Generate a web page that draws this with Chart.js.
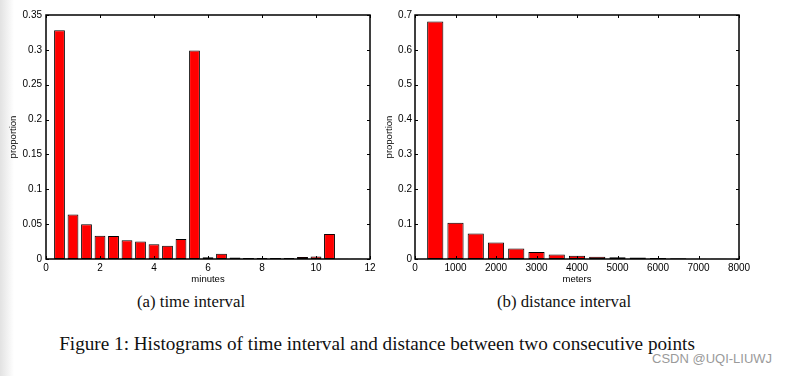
<!DOCTYPE html>
<html>
<head>
<meta charset="utf-8">
<script src="https://cdn.jsdelivr.net/npm/chart.js@4.4.1/dist/chart.umd.min.js"></script>
<style>
html, body { margin: 0; padding: 0; background: #fff; }
body { width: 789px; height: 376px; position: relative; overflow: hidden; }
.shade { position: absolute; left: 0; top: 0; width: 14px; height: 376px;
         background: linear-gradient(to right, #e2e2e2, #ffffff); }
.box { position: absolute; top: 0; height: 292px; }
#leftBox { left: 0; width: 380px; }
#rightBox { left: 380px; width: 409px; }
.cap { position: absolute; font-family: "Liberation Serif", "DejaVu Serif", serif;
       color: #111; white-space: nowrap; transform: translate(-50%, -50%); }
#capA { left: 191px; top: 302px; font-size: 16.8px; }
#capB { left: 564px; top: 302px; font-size: 16.8px; }
#capFig { left: 377px; top: 344px; font-size: 19.2px; }
#mark { position: absolute; left: 652px; top: 351px; font-family: "Liberation Sans", Arial, sans-serif;
        font-size: 13px; color: #9a9a9a; white-space: nowrap; }
</style>
</head>
<body>
<div class="shade"></div>
<div class="box" id="leftBox"><canvas id="timeChart"></canvas></div>
<div class="box" id="rightBox"><canvas id="distChart"></canvas></div>
<div class="cap" id="capA">(a) time interval</div>
<div class="cap" id="capB">(b) distance interval</div>
<div class="cap" id="capFig">Figure 1: Histograms of time interval and distance between two consecutive points</div>
<div id="mark">CSDN @UQI-LIUWJ</div>

<script>
/*************************************************
 * Data
 *************************************************/
const timeCenters = [0.5, 1, 1.5, 2, 2.5, 3, 3.5, 4, 4.5, 5, 5.5, 6,
                     6.5, 7, 7.5, 8, 8.5, 9, 9.5, 10, 10.5, 11, 11.5];
const timeValues = [0.328, 0.064, 0.050, 0.0335, 0.033, 0.027, 0.025, 0.021, 0.019, 0.0287, 0.299, 0.0024,
                    0.0077, 0.002, 0.0015, 0.0015, 0.0015, 0.0015, 0.003, 0.0035, 0.036, 0.0005, 0.0005];
const timeXTicks = [0, 2, 4, 6, 8, 10, 12];
const timeYTicks = [0, 0.05, 0.1, 0.15, 0.2, 0.25, 0.3, 0.35];

const distCenters = [500, 1000, 1500, 2000, 2500, 3000, 3500, 4000,
                     4500, 5000, 5500, 6000, 6500, 7000, 7500];
const distValues = [0.681, 0.104, 0.073, 0.047, 0.030, 0.020, 0.013, 0.0096,
                    0.0067, 0.005, 0.004, 0.003, 0.002, 0.001, 0.0005];
const distXTicks = [0, 1000, 2000, 3000, 4000, 5000, 6000, 7000, 8000];
const distYTicks = [0, 0.1, 0.2, 0.3, 0.4, 0.5, 0.6, 0.7];

/*************************************************
 * Box + inward ticks (matlab look)
 *************************************************/
const matlabFrame = {
    id: "matlabFrame",
    afterDatasetsDraw(chart) {
        const { ctx, chartArea: a, scales: { x, y } } = chart;
        const len = 3;
        ctx.save();
        ctx.strokeStyle = "#000";
        ctx.lineWidth = 1;
        ctx.beginPath();
        x.ticks.forEach(t => {
            const px = Math.round(x.getPixelForValue(t.value)) + 0.5;
            ctx.moveTo(px, a.bottom); ctx.lineTo(px, a.bottom - len);
            ctx.moveTo(px, a.top); ctx.lineTo(px, a.top + len);
        });
        y.ticks.forEach(t => {
            const py = Math.round(y.getPixelForValue(t.value)) + 0.5;
            ctx.moveTo(a.left, py); ctx.lineTo(a.left + len, py);
            ctx.moveTo(a.right, py); ctx.lineTo(a.right - len, py);
        });
        ctx.stroke();
        ctx.lineWidth = 1.5;
        ctx.strokeRect(a.left, a.top, a.right - a.left, a.bottom - a.top);
        ctx.restore();
    }
};

/*************************************************
 * Histogram builder
 *************************************************/
function makeHist(id, centers, values, xTicks, yTicks, xTitle, opt) {
    const tickFont = { family: "'Liberation Sans', Arial, sans-serif", size: 10 };
    const titleFont = { family: "'Liberation Sans', Arial, sans-serif", size: 9.5 };
    return new Chart(document.getElementById(id), {
        type: "bar",
        data: {
            datasets: [{
                data: centers.map((c, i) => ({ x: c, y: values[i] })),
                backgroundColor: "#ff0000",
                borderColor: "#000",
                borderWidth: 1,
                borderSkipped: false,
                barPercentage: 0.8,
                categoryPercentage: 1
            }]
        },
        options: {
            responsive: true,
            maintainAspectRatio: false,
            animation: false,
            layout: { padding: { top: 15, right: opt.right, left: 0, bottom: 0 } },
            plugins: { legend: { display: false }, tooltip: { enabled: false } },
            scales: {
                x: {
                    type: "linear",
                    min: xTicks[0],
                    max: xTicks[xTicks.length - 1],
                    offset: false,
                    grid: { display: false, drawTicks: false },
                    border: { display: false },
                    afterBuildTicks: s => { s.ticks = xTicks.map(v => ({ value: v })); },
                    afterFit: s => { s.height = 33; },
                    ticks: { color: "#000", font: tickFont, padding: 3, maxRotation: 0,
                             autoSkip: false, callback: v => String(v) },
                    title: { display: true, text: xTitle, color: "#000", font: titleFont,
                             padding: { top: 0, bottom: 7 } }
                },
                y: {
                    min: yTicks[0],
                    max: yTicks[yTicks.length - 1],
                    grid: { display: false, drawTicks: false },
                    border: { display: false },
                    afterBuildTicks: s => { s.ticks = yTicks.map(v => ({ value: v })); },
                    afterFit: s => { s.width = opt.yWidth; },
                    ticks: { color: "#000", font: tickFont, padding: opt.yPad,
                             autoSkip: false, callback: v => String(v) },
                    title: { display: true, text: "proportion", color: "#000", font: titleFont,
                             padding: { top: opt.titlePad, bottom: 0 } }
                }
            }
        },
        plugins: [matlabFrame]
    });
}

makeHist("timeChart", timeCenters, timeValues, timeXTicks, timeYTicks, "minutes",
         { right: 10, yWidth: 46, yPad: 4, titlePad: 8 });
makeHist("distChart", distCenters, distValues, distXTicks, distYTicks, "meters",
         { right: 50, yWidth: 35, yPad: 3, titlePad: 4 });
</script>
</body>
</html>
